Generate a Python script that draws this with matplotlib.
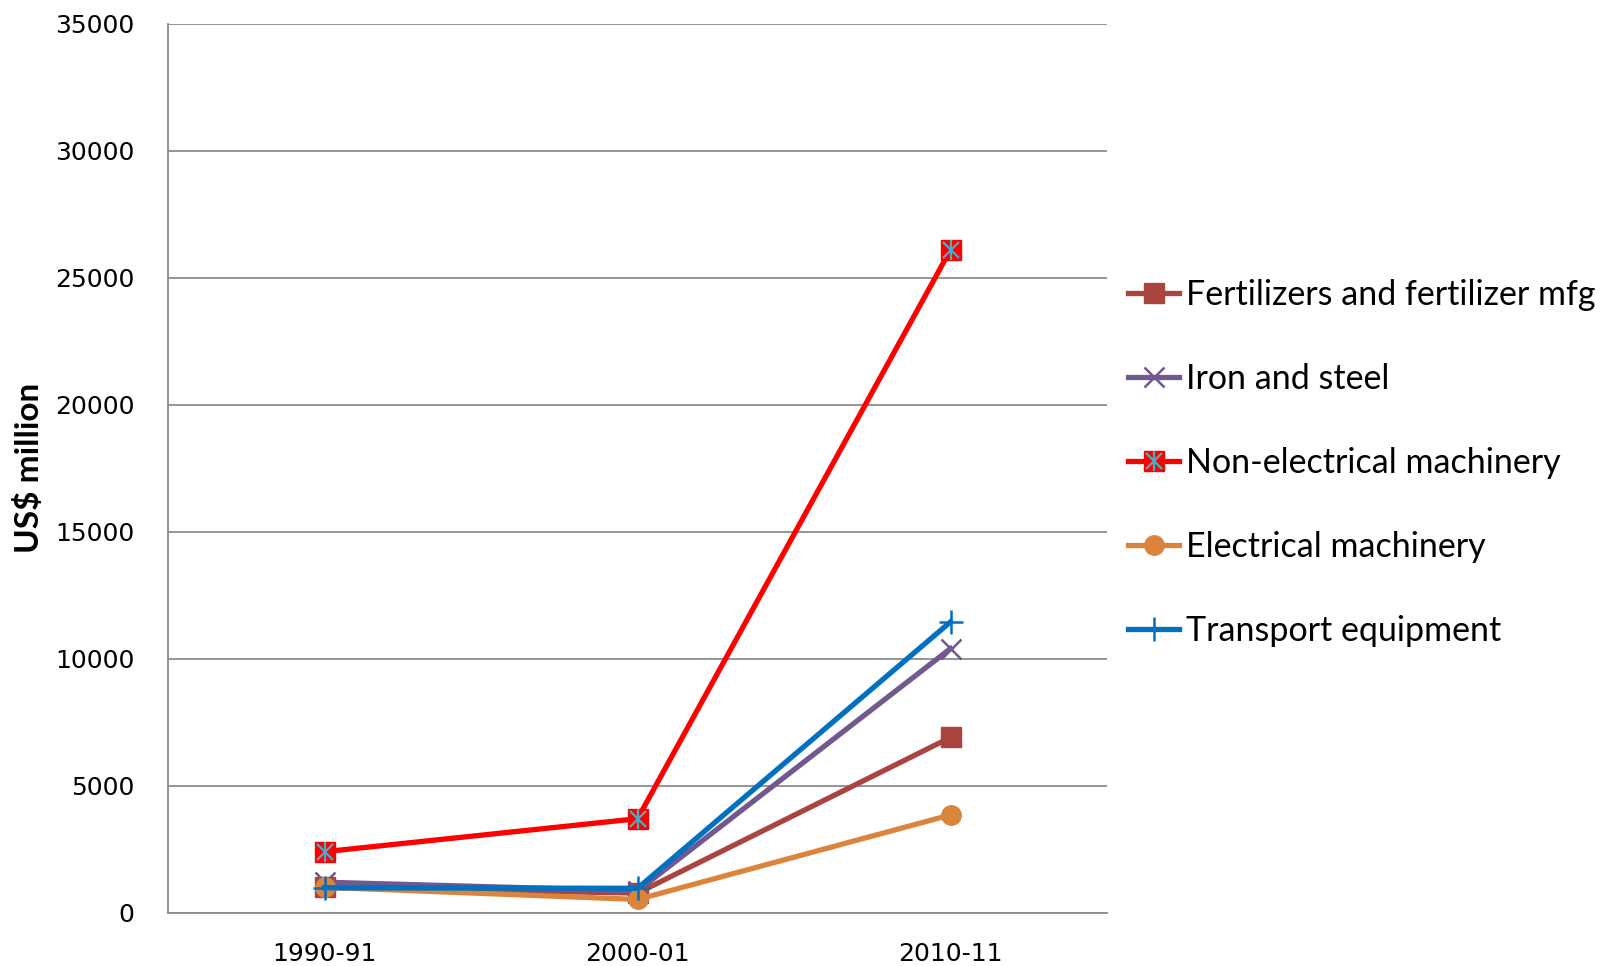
import matplotlib
matplotlib.use("Agg")
import matplotlib.pyplot as plt
from matplotlib.legend_handler import HandlerTuple

# ---- data -----------------------------------------------------------------
years = ["1990-91", "2000-01", "2010-11"]
fertilizers = [1000, 770, 6900]
iron_steel = [1200, 860, 10400]
non_electrical = [2400, 3700, 26100]
electrical = [1000, 520, 3850]
transport = [980, 960, 11450]

labels = ["Fertilizers and fertilizer mfg", "Iron and steel",
          "Non-electrical machinery", "Electrical machinery",
          "Transport equipment"]

C_FERT = "#A9443F"
C_IRON = "#71588F"
C_NONE = "#FF0000"
C_ELEC = "#DB843D"
C_TRAN = "#0070C0"
C_STAR = "#4BACC6"

fig = plt.figure(figsize=(16.19, 9.66), dpi=100)
ax = fig.add_axes([0.1038, 0.0552, 0.58, 0.9203])

x = range(len(years))
lw = 3.8

h_fert, = ax.plot(x, fertilizers, color=C_FERT, lw=lw, marker="s", ms=14,
                  mec=C_FERT, mfc=C_FERT)
h_iron, = ax.plot(x, iron_steel, color=C_IRON, lw=lw, marker="x", ms=15,
                  mew=1.8, mec=C_IRON)
h_none, = ax.plot(x, non_electrical, color=C_NONE, lw=lw, marker="s", ms=14,
                  mec=C_NONE, mfc=C_NONE)
# teal asterisk drawn over the red squares
h_nx, = ax.plot(x, non_electrical, ls="none", marker="x", ms=11, mew=1.6,
                mec=C_STAR)
h_nv, = ax.plot(x, non_electrical, ls="none", marker="|", ms=14, mew=1.6,
                mec=C_STAR)
h_elec, = ax.plot(x, electrical, color=C_ELEC, lw=lw, marker="o", ms=14,
                  mec=C_ELEC, mfc=C_ELEC)
h_tran, = ax.plot(x, transport, color=C_TRAN, lw=lw, marker="+", ms=17,
                  mew=1.8, mec=C_TRAN)

ax.set_xlim(-0.5, 2.5)
ax.set_ylim(0, 35000)
ax.set_yticks(range(0, 35001, 5000))
ax.set_xticks(list(x))
ax.set_xticklabels(years)
ax.grid(axis="y", color="#8C8C8C", lw=1.3)
ax.set_axisbelow(True)
for s in ("top", "right"):
    ax.spines[s].set_visible(False)
for s in ("left", "bottom"):
    ax.spines[s].set_color("#8C8C8C")
    ax.spines[s].set_linewidth(1.3)
ax.tick_params(axis="both", length=0, labelsize=18)
ax.tick_params(axis="x", pad=21)
ax.tick_params(axis="y", pad=24)
ax.set_ylabel("US$ million", fontsize=24, fontweight="bold",
              family=["Lato", "DejaVu Sans"], labelpad=8)

handles = [h_fert, h_iron, (h_none, h_nx, h_nv), h_elec, h_tran]
leg = fig.legend(handles, labels, loc="upper left",
                 bbox_to_anchor=(0.6776, 0.743), frameon=False,
                 prop={"family": "Lato", "size": 24.5},
                 handlelength=1.52, handletextpad=0.2, labelspacing=1.53,
                 handler_map={tuple: HandlerTuple(ndivide=1)})

fig.savefig("out.png", dpi=100)
